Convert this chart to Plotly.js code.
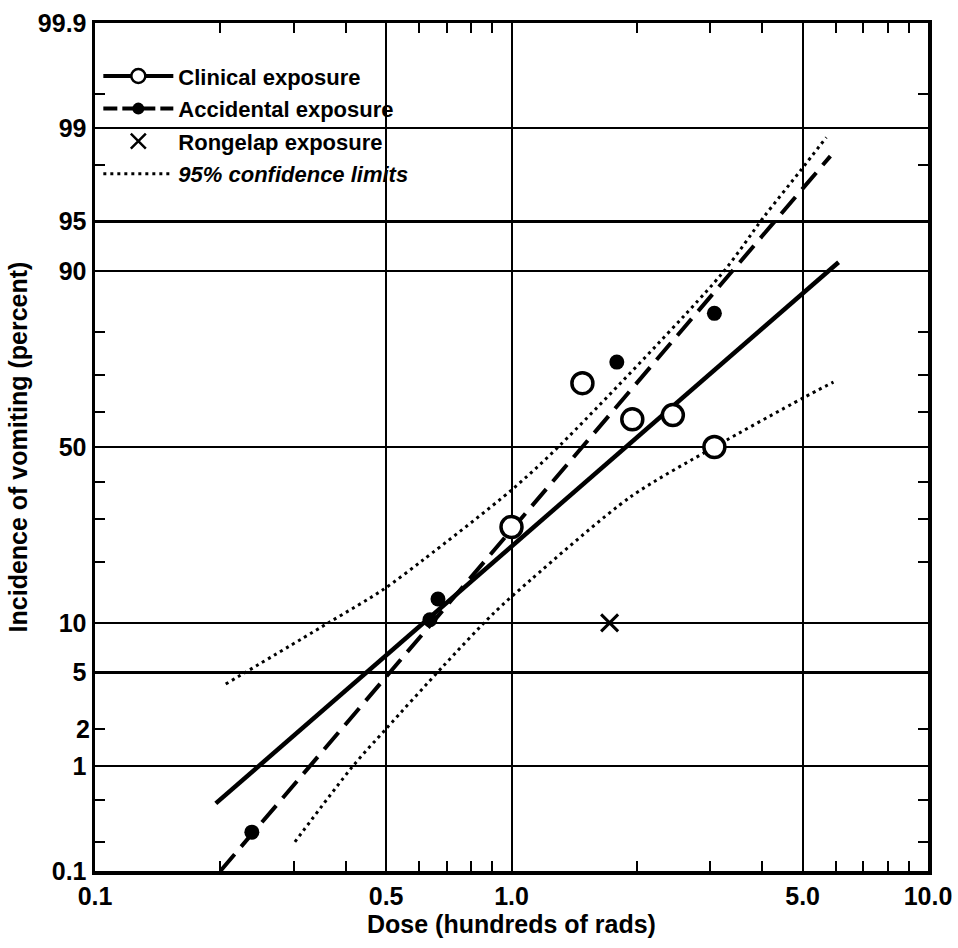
<!DOCTYPE html>
<html>
<head>
<meta charset="utf-8">
<script src="https://cdn.plot.ly/plotly-3.0.1.min.js"></script>
<style>html,body{margin:0;padding:0;background:#fff;}#chart{width:958px;height:948px;}</style>
</head>
<body>
<div id="chart"></div>
<script>
// ---- data (dose in hundreds of rads, incidence in percent) ----
const clinicalDose = [1.0, 1.48, 1.95, 2.44, 3.07];
const clinicalPct  = [28, 67.9, 58, 59.2, 50];
const accidentalDose = [0.238, 0.637, 0.666, 1.79, 3.07];
const accidentalPct  = [0.25, 10.4, 13.4, 73.2, 83.5];
const rongelapDose = [1.72];
const rongelapPct  = [10];
const clinicalFitDose = [0.195, 6.1];
const clinicalFitPct  = [0.47, 91.1];
const accidentalFitDose = [0.2, 5.83];
const accidentalFitPct  = [0.1, 98.3];
const upperDose = [0.206, 0.366, 0.491, 0.613, 1.0, 1.31, 3.18, 4.03, 4.94, 5.70];
const upperPct  = [4.2, 10.1, 14.9, 20.5, 37.7, 50.6, 89.5, 95.3, 97.8, 98.8];
const lowerDose = [0.302, 0.416, 0.5, 0.685, 0.903, 1.11, 1.93, 3.07, 5.0, 5.93];
const lowerPct  = [0.2, 1.0, 2.0, 5.5, 11.2, 16.6, 35.8, 50, 63.9, 68.2];

const xLabelVals = [0.1, 0.5, 1, 5, 10];
const xLabelText = ['0.1', '0.5', '1.0', '5.0', '10.0'];
const xMinorVals = [0.2, 0.3, 0.4, 0.6, 0.7, 0.8, 0.9, 2, 3, 4, 6, 7, 8, 9];
const yGridPct   = [0.1, 1, 5, 10, 50, 90, 95, 99, 99.9];
const yGridText  = ['0.1', '1', '5', '10', '50', '90', '95', '99', '99.9'];
const yMinorPct  = [0.2, 0.5, 2, 20, 30, 40, 60, 70, 80, 98, 99.5];
const yExtraLabelPct = [2];

// inverse normal CDF (probability scale transform), input percent
function probit(pct) {
  const p = pct / 100;
  const a = [-3.969683028665376e+01, 2.209460984245205e+02, -2.759285104469687e+02, 1.383577518672690e+02, -3.066479806614716e+01, 2.506628277459239e+00];
  const b = [-5.447609879822406e+01, 1.615858368580409e+02, -1.556989798598866e+02, 6.680131188771972e+01, -1.328068155288572e+01];
  const c = [-7.784894002430293e-03, -3.223964580411365e-01, -2.400758277161838e+00, -2.549732539343734e+00, 4.374664141464968e+00, 2.938163982698783e+00];
  const d = [7.784695709041462e-03, 3.224671290700398e-01, 2.445134176943964e+00, 3.754408661907416e+00];
  const plow = 0.02425, phigh = 1 - plow;
  let q, r;
  if (p < plow) {
    q = Math.sqrt(-2 * Math.log(p));
    return (((((c[0]*q+c[1])*q+c[2])*q+c[3])*q+c[4])*q+c[5]) / ((((d[0]*q+d[1])*q+d[2])*q+d[3])*q+1);
  } else if (p <= phigh) {
    q = p - 0.5; r = q*q;
    return (((((a[0]*r+a[1])*r+a[2])*r+a[3])*r+a[4])*r+a[5])*q / (((((b[0]*r+b[1])*r+b[2])*r+b[3])*r+b[4])*r+1);
  } else {
    q = Math.sqrt(-2 * Math.log(1 - p));
    return -(((((c[0]*q+c[1])*q+c[2])*q+c[3])*q+c[4])*q+c[5]) / ((((d[0]*q+d[1])*q+d[2])*q+d[3])*q+1);
  }
}
const P = arr => arr.map(probit);

const FONT = 'Liberation Sans, Arial, Helvetica, sans-serif';
const BLK = '#000';

const traces = [
  // legend samples
  {x:[null], y:[null], mode:'lines+markers', name:'Clinical exposure', legendgroup:'a',
   line:{color:BLK, width:4}, marker:{symbol:'circle', size:14, color:'#fff', line:{color:BLK, width:2.5}}},
  {x:[null], y:[null], mode:'lines+markers', name:'Accidental exposure', legendgroup:'b',
   line:{color:BLK, width:4, dash:'14px,5px'}, marker:{symbol:'circle', size:12, color:BLK}},
  {x:[null], y:[null], mode:'markers', name:'Rongelap exposure', legendgroup:'c',
   marker:{symbol:'x-thin-open', size:15, color:BLK, line:{color:BLK, width:2.5}}},
  // fits and limits
  {x:upperDose, y:P(upperPct), mode:'lines', name:'<i>95% confidence limits</i>', legendgroup:'d',
   line:{color:BLK, width:3, dash:'3px,4px', shape:'spline', smoothing:0.8}},
  {x:lowerDose, y:P(lowerPct), mode:'lines', showlegend:false,
   line:{color:BLK, width:3, dash:'3px,4px', shape:'spline', smoothing:0.8}},
  {x:clinicalFitDose, y:P(clinicalFitPct), mode:'lines', showlegend:false,
   line:{color:BLK, width:4.5}},
  {x:accidentalFitDose, y:P(accidentalFitPct), mode:'lines', showlegend:false,
   line:{color:BLK, width:4, dash:'22px,10px'}},
  // data points
  {x:clinicalDose, y:P(clinicalPct), mode:'markers', showlegend:false,
   marker:{symbol:'circle', size:21, color:'#fff', line:{color:BLK, width:3.5}}},
  {x:accidentalDose, y:P(accidentalPct), mode:'markers', showlegend:false,
   marker:{symbol:'circle', size:15, color:BLK}},
  {x:rongelapDose, y:P(rongelapPct), mode:'markers', showlegend:false,
   marker:{symbol:'x-thin-open', size:17, color:BLK, line:{color:BLK, width:3}}}
];

const layout = {
  width:958, height:948,
  margin:{l:95, r:30, t:23, b:77},
  paper_bgcolor:'#fff', plot_bgcolor:'#fff',
  font:{family:FONT, color:BLK, size:22, weight:'bold'},
  showlegend:true,
  legend:{x:0.004, y:0.962, xanchor:'left', yanchor:'top', bgcolor:'rgba(0,0,0,0)',
          font:{family:FONT, size:22, color:BLK, weight:'bold'}, tracegroupgap:1,
          traceorder:'grouped', itemwidth:70},
  xaxis:{type:'log', range:[-1, 1], tickmode:'array', tickvals:xLabelVals, ticktext:xLabelText,
         showgrid:true, gridcolor:BLK, gridwidth:2, zeroline:false,
         ticks:'inside', ticklen:10, tickwidth:2, tickcolor:BLK,
         showline:true, linewidth:3.5, linecolor:BLK, mirror:'ticks',
         minor:{tickmode:'array', tickvals:xMinorVals, ticks:'inside', ticklen:10, tickwidth:2, tickcolor:BLK, showgrid:false},
         tickfont:{family:FONT, size:25, weight:'bold', color:BLK},
         title:{text:'Dose (hundreds of rads)', font:{family:FONT, size:25, weight:'bold', color:BLK}, standoff:6}},
  yaxis:{range:[probit(0.1), probit(99.9)], tickmode:'array', tickvals:P(yGridPct), ticktext:yGridText,
         showgrid:true, gridcolor:BLK, gridwidth:2.5, zeroline:false,
         ticks:'inside', ticklen:10, tickwidth:2, tickcolor:BLK,
         showline:true, linewidth:3.5, linecolor:BLK, mirror:'ticks',
         minor:{tickmode:'array', tickvals:P(yMinorPct), ticks:'inside', ticklen:10, tickwidth:2, tickcolor:BLK, showgrid:false},
         tickfont:{family:FONT, size:25, weight:'bold', color:BLK},
         title:{text:'Incidence of vomiting (percent)', font:{family:FONT, size:25, weight:'bold', color:BLK}, standoff:4}},
  annotations: yExtraLabelPct.map((v, i) => ({
    xref:'paper', yref:'y', x:0, y:probit(v), text:String(v), showarrow:false,
    xanchor:'right', yanchor:'middle', xshift:-3,
    font:{family:FONT, size:25, weight:'bold', color:BLK}
  }))
};

Plotly.newPlot('chart', traces, layout, {displayModeBar:false, staticPlot:true});
</script>
</body>
</html>
